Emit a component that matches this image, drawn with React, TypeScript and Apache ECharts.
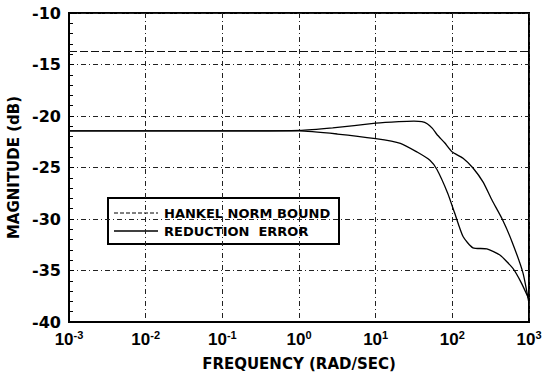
import React, { useEffect, useRef } from "react";
import * as echarts from "echarts";

const xTicks = [0.001, 0.01, 0.1, 1, 10, 100, 1000];
const yTicks = [-40, -35, -30, -25, -20, -15, -10];

const hankelFreq = [0.001, 0.1, 1, 2.75, 10, 20, 31.6, 40, 47, 55, 63, 79.4, 100, 138, 186, 251, 331, 447, 600, 832, 1000];
const hankelDb = [-21.45, -21.45, -21.4, -21.15, -20.7, -20.55, -20.5, -20.55, -20.75, -21.2, -21.8, -22.6, -23.5, -24.1, -25.05, -26.4, -28.2, -30.0, -32.2, -35.2, -38.2];

const errorFreq = [0.001, 0.1, 1, 3.16, 10, 21, 34.7, 51, 63, 87, 107, 138, 186, 282, 417, 617, 794, 1000];
const errorDb = [-21.45, -21.45, -21.45, -21.75, -22.2, -22.65, -23.5, -24.3, -25.2, -27.5, -29.4, -31.7, -32.8, -32.9, -33.5, -34.8, -36.2, -37.8];

const boundLevel = -13.7;

const legendLabels = ["HANKEL NORM BOUND", "REDUCTION  ERROR"];

const FONT = "DejaVu Sans";
const LFONT = "Liberation Sans";

export default function App() {
  const ref = useRef<HTMLDivElement>(null);
  useEffect(() => {
    if (!ref.current) return;
    const chart = echarts.init(ref.current, undefined, { renderer: "svg" });
    const gridDash = [5, 3, 1, 3];
    chart.setOption({
      animation: false,
      backgroundColor: "#fff",
      grid: {
        left: 69,
        right: 13,
        top: 13,
        bottom: 54,
        outerBoundsMode: "none",
        containLabel: false,
        show: true,
        borderColor: "#000",
        borderWidth: 2,
      },
      xAxis: {
        type: "log",
        logBase: 10,
        min: xTicks[0],
        max: xTicks[xTicks.length - 1],
        name: "FREQUENCY (RAD/SEC)",
        nameLocation: "middle",
        nameGap: 34,
        nameTextStyle: { fontFamily: FONT, fontWeight: "bold", fontSize: 15, color: "#000" },
        axisLine: { show: true, lineStyle: { color: "#000", width: 2 } },
        axisTick: { show: false },
        splitLine: { show: true, lineStyle: { color: "#222", width: 1, type: gridDash } },
        axisLabel: {
          margin: 7,
          formatter: (v: number) => `{b|10}{s|${Math.round(Math.log10(v))}}`,
          rich: {
            b: { fontFamily: LFONT, fontWeight: "bold", fontSize: 17, color: "#000", lineHeight: 20 },
            s: { fontFamily: LFONT, fontWeight: "bold", fontSize: 11, color: "#000", verticalAlign: "top", lineHeight: 20 },
          },
        },
      },
      yAxis: {
        type: "value",
        min: yTicks[0],
        max: yTicks[yTicks.length - 1],
        interval: 5,
        name: "MAGNITUDE (dB)",
        nameLocation: "middle",
        nameGap: 48,
        nameTextStyle: { fontFamily: FONT, fontWeight: "bold", fontSize: 15, color: "#000" },
        axisLine: { show: true, lineStyle: { color: "#000", width: 2 } },
        axisTick: { show: true, inside: true, length: 5, lineStyle: { color: "#000" } },
        minorTick: { show: true, splitNumber: 5, length: 4, lineStyle: { color: "#000" } },
        splitLine: { show: true, lineStyle: { color: "#222", width: 1, type: gridDash } },
        axisLabel: { margin: 8, fontFamily: FONT, fontWeight: "bold", fontSize: 16, color: "#000" },
      },
      series: [
        {
          name: legendLabels[0],
          type: "line",
          data: hankelFreq.map((f, i) => [f, hankelDb[i]]),
          showSymbol: false,
          smooth: 0.2,
          lineStyle: { color: "#000", width: 1.3 },
          markLine: {
            silent: true,
            symbol: "none",
            label: { show: false },
            lineStyle: { color: "#111", width: 1.2, type: [8, 3] },
            data: [{ yAxis: boundLevel }],
          },
        },
        {
          name: legendLabels[1],
          type: "line",
          data: errorFreq.map((f, i) => [f, errorDb[i]]),
          showSymbol: false,
          smooth: 0.2,
          lineStyle: { color: "#000", width: 1.3 },
        },
      ],
      graphic: [
        {
          type: "group",
          left: 107,
          top: 197,
          children: [
            {
              type: "rect",
              shape: { x: 0, y: 0, width: 231, height: 46 },
              style: { fill: "#fff", stroke: "#000", lineWidth: 2 },
            },
            {
              type: "line",
              shape: { x1: 6, y1: 15, x2: 50, y2: 15 },
              style: { stroke: "#000", lineWidth: 1, lineDash: [4, 2] },
            },
            {
              type: "line",
              shape: { x1: 6, y1: 33, x2: 50, y2: 33 },
              style: { stroke: "#000", lineWidth: 1.3 },
            },
            {
              type: "text",
              x: 56,
              y: 15,
              style: {
                text: legendLabels[0],
                fontFamily: FONT,
                fontWeight: "bold",
                fontSize: 13,
                fill: "#000",
                verticalAlign: "middle",
              },
            },
            {
              type: "text",
              x: 56,
              y: 33,
              style: {
                text: legendLabels[1],
                fontFamily: FONT,
                fontWeight: "bold",
                fontSize: 13,
                fill: "#000",
                verticalAlign: "middle",
              },
            },
          ],
        },
      ],
    });
    return () => chart.dispose();
  }, []);
  return <div ref={ref} style={{ width: 542, height: 376, position: "absolute", left: 0, top: 0 }} />;
}
